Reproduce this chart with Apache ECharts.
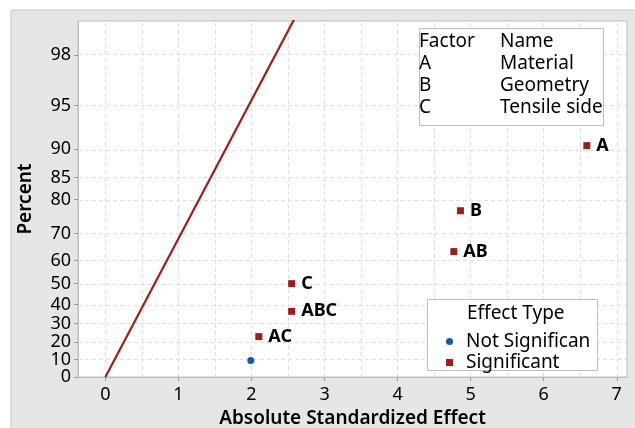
<!DOCTYPE html>
<html>
<head>
<meta charset="utf-8">
<script src="https://cdn.jsdelivr.net/npm/echarts@6/dist/echarts.min.js"></script>
<style>
  html, body { margin: 0; padding: 0; background: #ffffff; }
  #chart { width: 635px; height: 428px; }
</style>
</head>
<body>
<div id="chart"></div>
<script>
// Half-normal plot of the standardized effects (alpha = 0.05)
const effectNames     = ['BC', 'AC', 'ABC', 'C', 'AB', 'B', 'A'];
const effectValues    = [1.99, 2.10, 2.55, 2.55, 4.77, 4.86, 6.59];
const effectPercents  = [9.46, 22.97, 36.49, 50.0, 63.51, 77.03, 90.54];
const effectSignificant = [false, true, true, true, true, true, true];

// Reference line: |effect| = half-normal quantile (PSE = 1 on the standardized scale)
const refLineEffect = [0, 2.7];

const percentTicks  = [0, 10, 20, 30, 40, 50, 60, 70, 80, 85, 90, 95, 98];
const effectTicks   = [0, 1, 2, 3, 4, 5, 6, 7];
const effectGrid    = [0, 0.5, 1, 1.5, 2, 2.5, 3, 3.5, 4, 4.5, 5, 5.5, 6, 6.5, 7];

const factorCodes = ['A', 'B', 'C'];
const factorNames = ['Material', 'Geometry', 'Tensile side'];

const FONT = 'Noto Sans';
const RED = '#a01c1c';
const BLUE = '#0a5cb0';
const INK = '#000000';

// inverse standard normal CDF (Acklam)
function normInv(p) {
  const a = [-3.969683028665376e+01, 2.209460984245205e+02, -2.759285104469687e+02, 1.383577518672690e+02, -3.066479806614716e+01, 2.506628277459239e+00];
  const b = [-5.447609879822406e+01, 1.615858368580409e+02, -1.556989798598866e+02, 6.680131188771972e+01, -1.328068155288572e+01];
  const c = [-7.784894002430293e-03, -3.223964580411365e-01, -2.400758277161838e+00, -2.549732539343734e+00, 4.374664141464968e+00, 2.938163982698783e+00];
  const d = [7.784695709041462e-03, 3.224671290700398e-01, 2.445134137142996e+00, 3.754408661907416e+00];
  const pl = 0.02425, ph = 1 - pl;
  let q, r;
  if (p < pl) {
    q = Math.sqrt(-2 * Math.log(p));
    return (((((c[0]*q+c[1])*q+c[2])*q+c[3])*q+c[4])*q+c[5]) / ((((d[0]*q+d[1])*q+d[2])*q+d[3])*q+1);
  }
  if (p <= ph) {
    q = p - 0.5; r = q * q;
    return (((((a[0]*r+a[1])*r+a[2])*r+a[3])*r+a[4])*r+a[5])*q / (((((b[0]*r+b[1])*r+b[2])*r+b[3])*r+b[4])*r+1);
  }
  q = Math.sqrt(-2 * Math.log(1 - p));
  return -(((((c[0]*q+c[1])*q+c[2])*q+c[3])*q+c[4])*q+c[5]) / ((((d[0]*q+d[1])*q+d[2])*q+d[3])*q+1);
}
// percent -> position on the half-normal probability scale
const hz = pct => normInv(0.5 + pct / 200);

const percentTickZ = percentTicks.map(hz);
const tickLabelOf = z => {
  const i = percentTickZ.findIndex(t => Math.abs(t - z) < 1e-6);
  return i >= 0 ? String(percentTicks[i]) : '';
};
// the low percent ticks are packed tightly; spread them over two stacked left axes
// so that no tick label is dropped by the overlap check
const tickSetEven = percentTickZ.filter((z, i) => i % 2 === 0);
const tickSetOdd  = percentTickZ.filter((z, i) => i % 2 === 1);

const pts = effectNames.map((n, i) => ({ name: n, value: [effectValues[i], hz(effectPercents[i])] }));
const notSig = pts.filter((p, i) => !effectSignificant[i]);
const sig = pts.filter((p, i) => effectSignificant[i]);

const gridLineStyle = { color: '#dedede', type: [4, 3], width: 1 };
const boxFont = size => size + 'px "' + FONT + '"';
const Z_MAX = 2.572;

const yLabelStyle = { formatter: v => tickLabelOf(v), fontSize: 18, color: INK, margin: 7,
  fontFamily: FONT, hideOverlap: false, showMinLabel: true, showMaxLabel: true };

const chart = echarts.init(document.getElementById('chart'), null, { renderer: 'canvas' });
chart.setOption({
  animation: false,
  backgroundColor: '#ffffff',
  textStyle: { fontFamily: FONT },
  grid: {
    left: 78, top: 21, width: 549, height: 356,
    containLabel: false, outerBoundsMode: 'none',
    show: true, backgroundColor: '#ffffff', borderColor: '#bdbdbd', borderWidth: 1
  },
  xAxis: {
    type: 'value', min: -0.375, max: 7.14,
    name: 'Absolute Standardized Effect', nameLocation: 'middle', nameGap: 30,
    nameTextStyle: { fontFamily: FONT, fontSize: 19, fontWeight: 600, color: INK },
    axisLine: { show: true, onZero: false, lineStyle: { color: '#bdbdbd' } },
    axisTick: { show: true, length: 4, customValues: effectTicks, lineStyle: { color: '#9a9a9a' } },
    axisLabel: { customValues: effectTicks, fontSize: 18, color: INK, margin: 9, fontFamily: FONT, hideOverlap: false },
    splitLine: { show: false }
  },
  yAxis: [
    {
      type: 'value', min: 0, max: Z_MAX, position: 'left',
      name: 'Percent', nameLocation: 'middle', nameGap: 43, nameRotate: 90,
      nameTextStyle: { fontFamily: FONT, fontSize: 19, fontWeight: 600, color: INK },
      axisLine: { show: true, onZero: false, lineStyle: { color: '#bdbdbd' } },
      axisTick: { show: true, length: 4, customValues: tickSetEven, lineStyle: { color: '#9a9a9a' } },
      axisLabel: Object.assign({ customValues: tickSetEven }, yLabelStyle),
      splitLine: { show: false }
    },
    {
      type: 'value', min: 0, max: Z_MAX, position: 'left',
      axisLine: { show: false, onZero: false },
      axisTick: { show: true, length: 4, customValues: tickSetOdd, lineStyle: { color: '#9a9a9a' } },
      axisLabel: Object.assign({ customValues: tickSetOdd }, yLabelStyle),
      splitLine: { show: false }
    }
  ],
  legend: {
    z: 120,
    data: [
      { name: 'Not Significant', icon: 'circle' },
      { name: 'Significant', icon: 'rect' }
    ],
    orient: 'vertical', left: 441, top: 326,
    itemWidth: 7, itemHeight: 7, itemGap: 0,
    selectedMode: false,
    textStyle: { fontFamily: FONT, fontSize: 19, color: INK, lineHeight: 21, padding: [0, 0, 0, 8], width: 129, overflow: 'truncate', ellipsis: '' }
  },
  graphic: [
    { type: 'rect', z: -100, shape: { x: 11, y: 10, width: 640, height: 440 },
      style: { fill: '#e6e6e6', stroke: '#c8c8c8', lineWidth: 1 } },
    // factor key
    { type: 'group', z: 100, children: [
      { type: 'rect', z: 100, shape: { x: 419.5, y: 28.5, width: 184, height: 97 },
        style: { fill: '#ffffff', stroke: '#bdbdbd', lineWidth: 1 } },
      { type: 'text', z: 101, x: 419, y: 42, style: { text: 'Factor', font: boxFont(19), fill: INK, textVerticalAlign: 'middle' } },
      { type: 'text', z: 101, x: 500, y: 42, style: { text: 'Name', font: boxFont(19), fill: INK, textVerticalAlign: 'middle' } }
    ].concat(factorCodes.flatMap((code, i) => [
      { type: 'text', z: 101, x: 419, y: 64 + 22 * i, style: { text: code, font: boxFont(19), fill: INK, textVerticalAlign: 'middle' } },
      { type: 'text', z: 101, x: 500, y: 64 + 22 * i, style: { text: factorNames[i], font: boxFont(19), fill: INK, textVerticalAlign: 'middle' } }
    ])) },
    // effect type box
    { type: 'rect', z: 100, shape: { x: 427.5, y: 299.5, width: 170, height: 71 },
      style: { fill: '#ffffff', stroke: '#bdbdbd', lineWidth: 1 } },
    { type: 'text', z: 101, x: 467, y: 314, style: { text: 'Effect Type', font: boxFont(19), fill: INK, textVerticalAlign: 'middle' } }
  ],
  series: [
    {
      name: 'grid', type: 'line', data: [], z: 1, silent: true,
      markLine: {
        z: 1, silent: true, symbol: 'none', animation: false,
        label: { show: false }, lineStyle: gridLineStyle, emphasis: { disabled: true },
        data: percentTickZ.slice(1).map(z => ({ yAxis: z })).concat(effectGrid.map(x => ({ xAxis: x })))
      }
    },
    {
      name: 'Reference', type: 'line', z: 3, symbol: 'none', clip: true,
      lineStyle: { color: RED, width: 2.2 },
      data: refLineEffect.map(e => [e, e])
    },
    {
      name: 'Not Significant', type: 'scatter', z: 4, symbol: 'circle', symbolSize: 7,
      itemStyle: { color: BLUE, opacity: 1 },
      data: notSig
    },
    {
      name: 'Significant', type: 'scatter', z: 4, symbol: 'rect', symbolSize: 7,
      itemStyle: { color: RED, opacity: 1 },
      label: { show: true, position: 'right', distance: 6, formatter: p => p.name,
        fontFamily: FONT, fontSize: 18, fontWeight: 'bold', color: INK },
      data: sig
    }
  ]
});
</script>
</body>
</html>
